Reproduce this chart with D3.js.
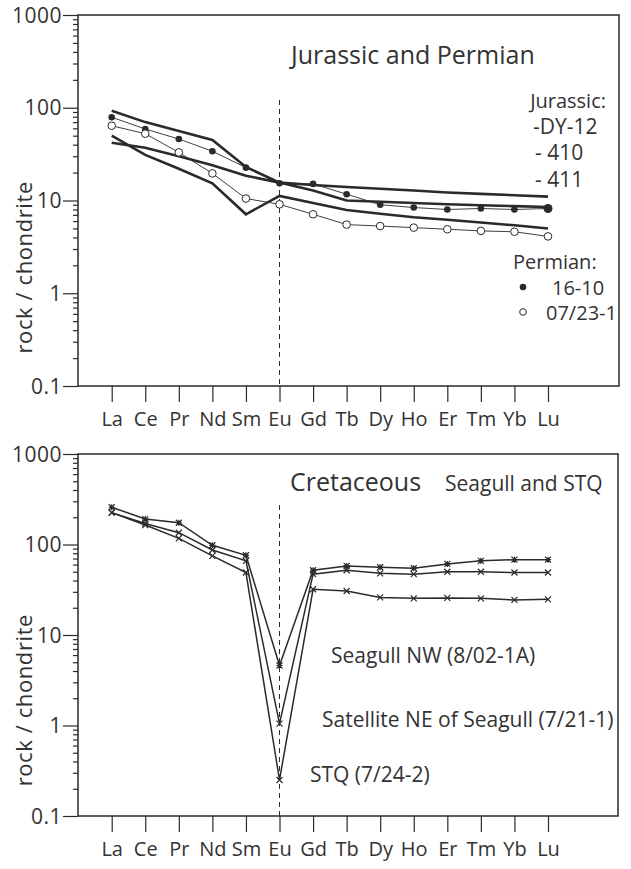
<!DOCTYPE html>
<html>
<head>
<meta charset="utf-8">
<script src="https://cdn.jsdelivr.net/npm/d3@7"></script>
<style>
  body { margin: 0; background: #fff; }
  text { font-family: "Open Sans", sans-serif; fill: #333; }
</style>
</head>
<body>
<svg id="chart" width="631" height="869"></svg>
<script>
// REE elements along the x axis
var elements = ["La","Ce","Pr","Nd","Sm","Eu","Gd","Tb","Dy","Ho","Er","Tm","Yb","Lu"];
var yTicks = [0.1, 1, 10, 100, 1000];

// Jurassic samples (thick lines, no markers)
var jurDY12 = [93, 70, 56, 45, 23, 15.6, 12.8, 10, 9.7, 9.4, 9.1, 8.9, 8.7, 8.5];
var jur410  = [50, 31, 22, 15.3, 7.1, 11.2, 9.4, 7.9, 7.2, 6.6, 6.2, 5.8, 5.4, 5.0];
var jur411  = [42, 37, 30, 24, 18.5, 15.6, 14.7, 14, 13.4, 12.8, 12.2, 11.8, 11.4, 11];

// Permian samples (thin lines with dots)
var perm1610  = [79, 59, 46, 34, 22.6, 15.3, 15.1, 11.7, 9, 8.4, 8, 8.2, 8, 8.2];
var perm07231 = [64, 52.5, 33, 19.6, 10.5, 9.1, 7.1, 5.5, 5.3, 5.1, 4.9, 4.7, 4.6, 4.1];

// Cretaceous samples (Seagull and STQ)
var creNW   = [258, 191, 174, 98, 76, 4.6, 52, 58, 56, 54.6, 61, 66, 68, 68];
var creSat  = [225, 171, 135, 87, 66, 1.05, 47, 52, 48, 47, 50, 50, 49, 49];
var creSTQ  = [225, 164, 117, 75, 49, 0.25, 32, 30.6, 26, 25.4, 25.7, 25.4, 24.4, 24.8];

var svg = d3.select("#chart");
var ink = "#2a2a2a";

var x = d3.scalePoint().domain(elements).range([111.7, 548]);

function panel(top, bottom, right) {
    var left = 78;
    var y = d3.scaleLog().domain([0.1, 1000]).range([bottom, top]);
    var g = svg.append("g");

    // minor ticks
    var minors = [];
    for (var d = 0.1; d < 1000; d *= 10) {
        for (var k = 2; k <= 9; k++) minors.push(+(d * k).toPrecision(3));
    }
    g.append("g").attr("transform", "translate(" + left + ",0)")
        .call(d3.axisLeft(y).tickValues(minors).tickSize(5).tickFormat(""))
        .call(function(s){ s.select(".domain").remove(); s.selectAll("line").attr("stroke", ink).attr("stroke-width", 1.2); });

    // major ticks + labels
    var ya = g.append("g").attr("transform", "translate(" + left + ",0)")
        .call(d3.axisLeft(y).tickValues(yTicks).tickSize(15).tickPadding(1)
            .tickFormat(function(d){ return d < 1 ? "0.1" : d3.format("d")(d); }));
    ya.select(".domain").remove();
    ya.selectAll("line").attr("stroke", ink).attr("stroke-width", 1.2);
    ya.selectAll("text").attr("font-size", 21).attr("dy", "0.34em").attr("letter-spacing", 0.5)
        .style("font-family", "'Open Sans', sans-serif").attr("fill", "#333");

    // x axis
    var xa = g.append("g").attr("transform", "translate(0," + bottom + ")")
        .call(d3.axisBottom(x).tickSize(16).tickPadding(10));
    xa.select(".domain").remove();
    xa.selectAll("line").attr("stroke", ink).attr("stroke-width", 1.2);
    xa.selectAll("text").attr("font-size", 20).style("font-family", "'Open Sans', sans-serif").attr("fill", "#333");

    // frame
    g.append("rect").attr("x", left).attr("y", top)
        .attr("width", right - left).attr("height", bottom - top)
        .attr("fill", "none").attr("stroke", ink).attr("stroke-width", 1.5);

    // y label
    var cy = top + (bottom - top) * 0.68;
    g.append("text").attr("transform", "translate(32," + cy + ") rotate(-90)")
        .attr("text-anchor", "middle").attr("font-size", 22).attr("letter-spacing", 0.6)
        .text("rock / chondrite");

    return { g: g, y: y };
}

function drawLine(p, vals, w) {
    var line = d3.line().x(function(d, i){ return x(elements[i]); }).y(function(d){ return p.y(d); });
    p.g.append("path").datum(vals).attr("d", line)
        .attr("fill", "none").attr("stroke", ink).attr("stroke-width", w).attr("stroke-linejoin", "miter");
}

function label(p, tx, ty, size, str, anchor) {
    return p.g.append("text").attr("x", tx).attr("y", ty).attr("font-size", size)
        .attr("text-anchor", anchor || "start").text(str);
}

// ---------- upper panel ----------
var p1 = panel(15, 386, 619);

p1.g.append("line").attr("x1", x("Eu")).attr("x2", x("Eu")).attr("y1", 100).attr("y2", 386)
    .attr("stroke", ink).attr("stroke-width", 1).attr("stroke-dasharray", "5,4");

drawLine(p1, jurDY12, 2.6);
drawLine(p1, jur410, 2.6);
drawLine(p1, jur411, 2.6);
drawLine(p1, perm1610, 0.9);
drawLine(p1, perm07231, 0.9);

p1.g.selectAll(".dot").data(perm1610).enter().append("circle")
    .attr("cx", function(d, i){ return x(elements[i]); })
    .attr("cy", function(d){ return p1.y(d); })
    .attr("r", function(d, i){ return i == elements.length - 1 ? 4.5 : 3.3; })
    .attr("fill", ink);
p1.g.selectAll(".odot").data(perm07231).enter().append("circle")
    .attr("cx", function(d, i){ return x(elements[i]); })
    .attr("cy", function(d){ return p1.y(d); })
    .attr("r", 3.8).attr("fill", "#fff").attr("stroke", ink).attr("stroke-width", 1);

label(p1, 291, 64, 25, "Jurassic and Permian");
label(p1, 606, 108, 20, "Jurassic:", "end");
label(p1, 533, 134, 21, "-DY-12");
label(p1, 535, 160, 21, "- 410");
label(p1, 535, 187, 21, "- 411");
label(p1, 513, 269, 20, "Permian:");
p1.g.append("circle").attr("cx", 523).attr("cy", 287).attr("r", 3.3).attr("fill", ink);
label(p1, 552, 295, 20, "16-10");
p1.g.append("circle").attr("cx", 523).attr("cy", 312).attr("r", 3.3).attr("fill", "#fff").attr("stroke", ink);
label(p1, 546, 320, 20, "07/23-1");

// ---------- lower panel ----------
var p2 = panel(454, 816, 618);

p2.g.append("line").attr("x1", x("Eu")).attr("x2", x("Eu")).attr("y1", 505).attr("y2", 816)
    .attr("stroke", ink).attr("stroke-width", 1).attr("stroke-dasharray", "5,4");

function crosses(p, vals, star) {
    vals.forEach(function(d, i){
        var cx = x(elements[i]), cy = p.y(d), s = 3;
        var path = "M" + (cx - s) + "," + (cy - s) + "L" + (cx + s) + "," + (cy + s) +
                   "M" + (cx - s) + "," + (cy + s) + "L" + (cx + s) + "," + (cy - s);
        if (star) path += "M" + (cx - s) + "," + cy + "L" + (cx + s) + "," + cy + "M" + cx + "," + (cy - s) + "L" + cx + "," + (cy + s);
        p.g.append("path").attr("d", path).attr("stroke", ink).attr("stroke-width", 1.2).attr("fill", "none");
    });
}

drawLine(p2, creNW, 1.5);
drawLine(p2, creSat, 1.5);
drawLine(p2, creSTQ, 1.5);
crosses(p2, creNW, true);
crosses(p2, creSat, false);
crosses(p2, creSTQ, false);

label(p2, 290, 491, 25, "Cretaceous");
label(p2, 445, 491, 21, "Seagull and STQ");
label(p2, 331, 663, 21, "Seagull NW (8/02-1A)");
label(p2, 322, 727, 21, "Satellite NE of Seagull (7/21-1)");
label(p2, 310, 782, 21, "STQ (7/24-2)");
</script>
</body>
</html>
